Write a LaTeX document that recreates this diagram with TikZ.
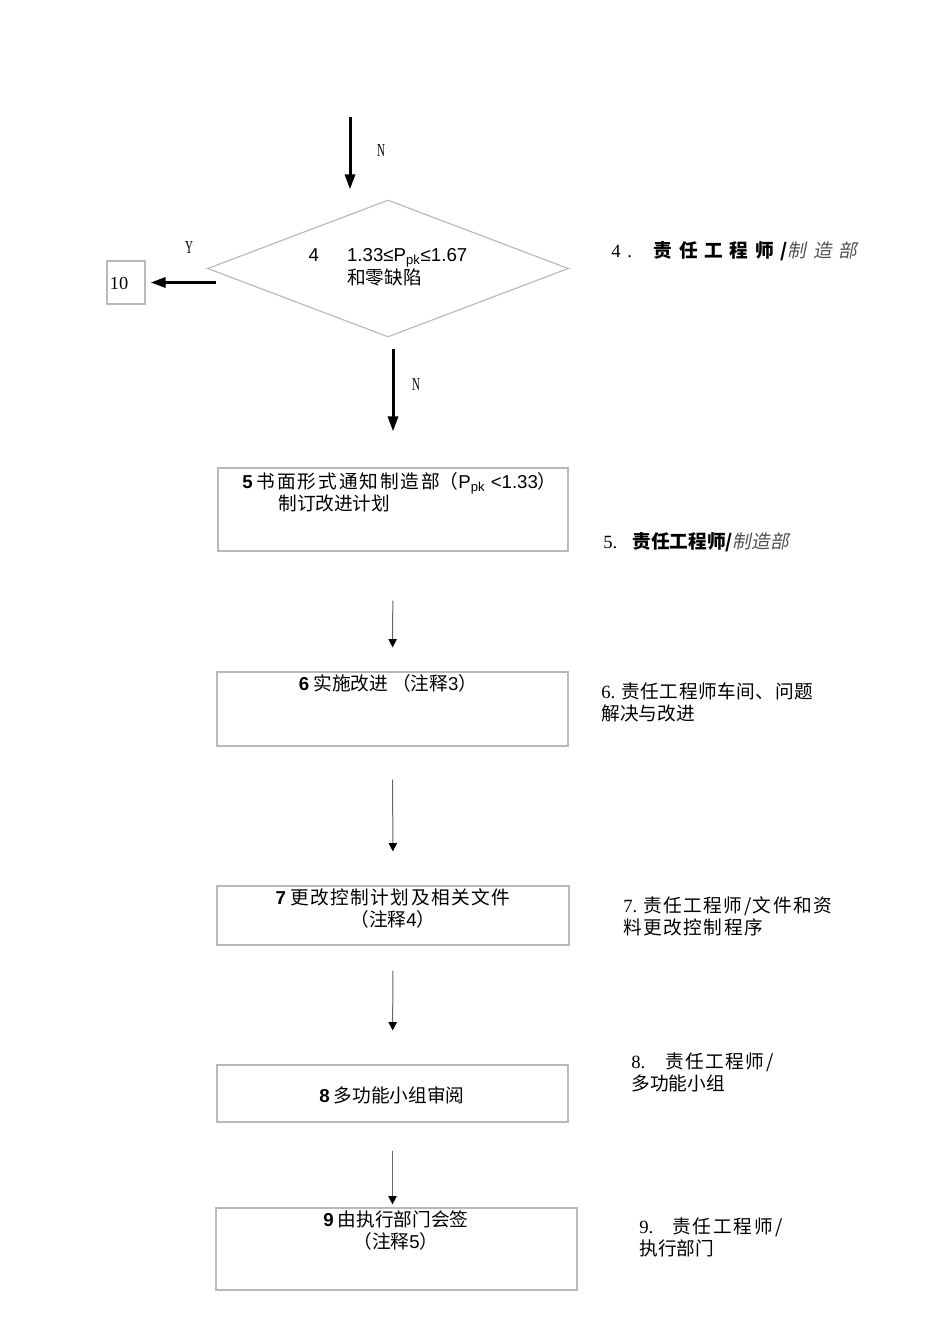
\documentclass[tikz,border=0pt]{standalone}
\usepackage{fontspec}
\setmainfont{Noto Sans CJK SC}
\newfontfamily\ar{Liberation Sans}
\newfontfamily\tms{Liberation Serif}
\newfontfamily\tmsn{Liberation Serif}[FakeStretch=0.6]
\newfontfamily\cjkit{Noto Sans CJK SC}[FakeSlant=0.2]
\usetikzlibrary{shapes.geometric,arrows.meta}
\definecolor{boxgray}{RGB}{185,185,185}
\definecolor{itgray}{RGB}{80,80,80}

\begin{document}
\begin{tikzpicture}[x=0.6pt,y=-0.6pt,
    font=\fontsize{11.2}{13.2}\selectfont,
    stepbox/.style={draw=boxgray,line width=0.7pt,inner sep=0pt},
    boxtext/.style={inner sep=0pt,align=center},
    note/.style={inner sep=0pt,align=left,anchor=north west},
    yn/.style={inner sep=0pt,font=\tmsn\fontsize{11}{13}\selectfont},
    bigarrow/.style={line width=1.8pt,-{Triangle[length=9pt,width=6pt]}},
    smallarrow/.style={line width=0.6pt,black!60,-{Triangle[length=5pt,width=5pt,color=black]}}]

    \useasboundingbox (0,0) rectangle (950,1344);

    % Decision 4
    \coordinate (in) at (350,117);
    \coordinate (yout) at (216,282.5);
    \node[stepbox,diamond,aspect=2.6,minimum width=216.6pt,minimum height=82.2pt] at (388,268.5) (d4)
        {\begin{tabular}{@{}l@{\hspace{16.8pt}}l@{}}{\ar 4} & {\ar 1.33≤P\textsubscript{pk}≤1.67}\\ & 和零缺陷\end{tabular}};
    \node[stepbox,minimum width=22.8pt,minimum height=25.8pt] at (126,282.5) (b10) {};
    \node[inner sep=0pt,font=\tms\fontsize{11}{13}\selectfont] at (119,283) (t10) {10};
    \node[yn] at (381,150) (n1) {N};
    \node[yn] at (189,247) (y1) {Y};
    \node[yn] at (416,384) (n2) {N};

    % Steps
    \node[stepbox,minimum width=210pt,minimum height=49.8pt] at (393,509.5) (b5) {};
    \node[note] at (242,472) (t5) {\textbf{\ar 5} {\addfontfeature{LetterSpace=10}书面形式通知制造部}（{\ar P\textsubscript{pk} <1.33}）\\\hspace*{21.6pt}制订改进计划};

    \node[stepbox,minimum width=210.6pt,minimum height=44.4pt] at (392.5,709) (b6) {};
    \node[boxtext,anchor=north] at (388,674) (t6) {\textbf{\ar 6} 实施改进 （注释{\ar 3}）};

    \node[stepbox,minimum width=211.2pt,minimum height=35.4pt] at (393,915.5) (b7) {};
    \node[boxtext,anchor=north] at (393,888) (t7) {\textbf{\ar 7} {\addfontfeature{LetterSpace=8}更改控制计划及相关文件}\\（注释{\ar 4}）};

    \node[stepbox,minimum width=210.6pt,minimum height=34.2pt] at (392.5,1093.5) (b8) {};
    \node[boxtext] at (392,1095) (t8) {\textbf{\ar 8} 多功能小组审阅};

    \node[stepbox,minimum width=216.6pt,minimum height=49.2pt] at (396.5,1249) (b9) {};
    \node[boxtext,anchor=north] at (396,1210) (t9) {\textbf{\ar 9} 由执行部门会签\\（注释{\ar 5}）};

    % Responsibility notes
    \node[note] at (611,241) (r4) {{\tms 4\hspace{4pt}.\hspace{13pt}}{\bfseries\addfontfeature{LetterSpace=36}责任工程师/}{\cjkit\color{itgray}\addfontfeature{LetterSpace=36}制造部}};
    \node[note] at (603,532) (r5) {{\tms 5.\hspace{9pt}}\textbf{责任工程师/}{\cjkit\color{itgray}制造部}};
    \node[note] at (601,682) (r6) {{\tms 6.}\hspace{3.6pt}{\addfontfeature{LetterSpace=3}责任工程师车间、问题}\\解决与改进};
    \node[note] at (623,896) (r7) {{\tms 7.}\hspace{3.6pt}{\addfontfeature{LetterSpace=8}责任工程师/文件和资}\\{\addfontfeature{LetterSpace=8}料更改控制程序}};
    \node[note] at (631,1052) (r8) {{\tms 8.}\hspace{12pt}{\addfontfeature{LetterSpace=8}责任工程师/}\\多功能小组};
    \node[note] at (639,1217) (r9) {{\tms 9.}\hspace{11.4pt}{\addfontfeature{LetterSpace=10}责任工程师/}\\执行部门};

    % Flow
    \draw[bigarrow,shorten >=6pt] (in) -- (in |- d4.north);
    \draw[bigarrow,shorten >=3pt] (yout) -- (b10.east);
    \draw[bigarrow,shorten <=6.6pt,shorten >=21.6pt] (b5.north |- d4.south) -- (b5.north);
    \draw[smallarrow,shorten <=29.4pt,shorten >=14.4pt] (b5.south) -- (b6.north);
    \draw[smallarrow,shorten <=19.8pt,shorten >=20.4pt] (b6.south) -- (b7.north);
    \draw[smallarrow,shorten <=15pt,shorten >=20.4pt] (b7.south) -- (b8.north);
    \draw[smallarrow,shorten <=16.8pt,shorten >=1.8pt] (b8.south) -- (b8.south |- b9.north);

\end{tikzpicture}
\end{document}
